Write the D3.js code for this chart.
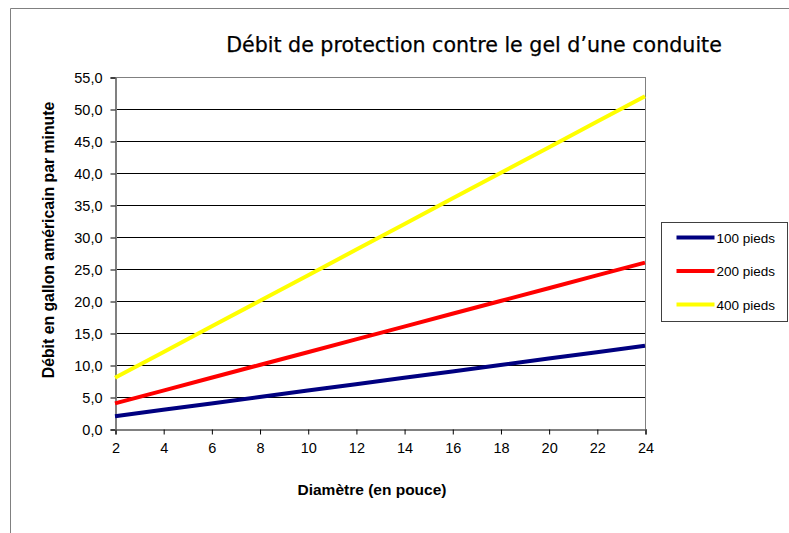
<!DOCTYPE html>
<html>
<head>
<meta charset="utf-8">
<script src="https://cdn.jsdelivr.net/npm/d3@7"></script>
<style>
	html, body { margin: 0; padding: 0; background: white; }
	#outer { width: 789px; height: 533px; }
</style>
</head>
<body>
<div id="outer"></div>
<script>
////////// Data //////////
const diameters = [2, 4, 6, 8, 10, 12, 14, 16, 18, 20, 22, 24];
const seriesNames = ['100 pieds', '200 pieds', '400 pieds'];
const seriesColors = ['#000080', '#ff0000', '#ffff00'];
const flow100 = [2, 3, 4, 5, 6, 7, 8, 9, 10, 11, 12, 13];
const flow200 = [4, 6, 8, 10, 12, 14, 16, 18, 20, 22, 24, 26];
const flow400 = [8, 12, 16, 20, 24, 28, 32, 36, 40, 44, 48, 52];
const xTicks = [2, 4, 6, 8, 10, 12, 14, 16, 18, 20, 22, 24];
const yTicks = [0, 5, 10, 15, 20, 25, 30, 35, 40, 45, 50, 55];

const titleText = 'Débit de protection contre le gel d\u2019une conduite';
const xLabelText = 'Diamètre (en pouce)';
const yLabelText = 'Débit en gallon américain par minute';

function drawChart () {
	////////////////////////////////////////////////////////////////
		// Setup
	////////////////////////////////////////////////////////////////
	const width = 789, height = 533;
	const plot = {left: 115, right: 645, top: 77, bottom: 429};
	const font = '"Liberation Sans", Arial, sans-serif';
	const titleFont = '"DejaVu Sans", Verdana, sans-serif';
	const gridColor = '#000000';
	const frameColor = '#808080';
	const textColor = '#000000';

	const series = [flow100, flow200, flow400].map((vals, i) => ({
		name: seriesNames[i],
		color: seriesColors[i],
		points: diameters.map((d, j) => ({x: d, y: vals[j]}))
	}));

	const x = d3.scaleLinear().domain([2, 24]).range([plot.left, plot.right]);
	const y = d3.scaleLinear().domain([0, 55]).range([plot.bottom, plot.top]);

	const svg = d3.select('#outer').append('svg')
		.attr('width', width)
		.attr('height', height)
		.style('font-family', font)
		.style('display', 'block');

	////////////////////////////////////////////////////////////////
		// Chart frame
	////////////////////////////////////////////////////////////////
	svg.append('path')
		.attr('d', `M10.5,${height} V8.5 H${width}`)
		.attr('fill', 'none')
		.attr('stroke', frameColor)
		.attr('stroke-width', 1);

	// title
	svg.append('text')
		.attr('x', 474)
		.attr('y', 52)
		.attr('text-anchor', 'middle')
		.style('font-family', titleFont)
		.style('font-size', '20.6px')
		.attr('fill', textColor)
		.attr('stroke', textColor)
		.attr('stroke-width', 0.25)
		.text(titleText);

	////////////////////////////////////////////////////////////////
		// Grid + axes
	////////////////////////////////////////////////////////////////
	const grid = svg.append('g').attr('class', 'grid');
	grid.selectAll('line')
		.data(yTicks.filter(t => t > 0))
		.join('line')
		.attr('x1', plot.left)
		.attr('x2', plot.right)
		.attr('y1', d => Math.round(y(d)) + 0.5)
		.attr('y2', d => Math.round(y(d)) + 0.5)
		.attr('stroke', d => d === 55 ? frameColor : gridColor)
		.attr('stroke-width', 1);

	// right edge of plot
	svg.append('line')
		.attr('x1', plot.right + 0.5).attr('x2', plot.right + 0.5)
		.attr('y1', plot.top).attr('y2', plot.bottom)
		.attr('stroke', frameColor);

	const yAxis = svg.append('g')
		.attr('transform', `translate(${plot.left + 0.5}, 0.5)`)
		.call(d3.axisLeft(y).tickValues(yTicks).tickSize(5).tickPadding(8)
			.tickFormat(d => d3.format('.1f')(d).replace('.', ',')));
	yAxis.select('.domain').attr('stroke', frameColor).attr('stroke-width', 2);
	yAxis.selectAll('.tick line').attr('stroke', '#000');
	yAxis.selectAll('.tick text')
		.style('font-size', '14.5px')
		.style('font-family', font)
		.attr('fill', textColor);

	const xAxis = svg.append('g')
		.attr('transform', `translate(0.5, ${plot.bottom + 0.5})`)
		.call(d3.axisBottom(x).tickValues(xTicks).tickSize(5).tickPadding(8));
	xAxis.select('.domain').attr('stroke', frameColor).attr('stroke-width', 2);
	xAxis.selectAll('.tick line').attr('stroke', '#000');
	xAxis.selectAll('.tick text')
		.style('font-size', '14.5px')
		.style('font-family', font)
		.attr('fill', textColor);

	// axis titles
	svg.append('text')
		.attr('x', 372)
		.attr('y', 495)
		.attr('text-anchor', 'middle')
		.style('font-size', '15.5px')
		.style('font-weight', 'bold')
		.attr('fill', textColor)
		.text(xLabelText);

	svg.append('text')
		.attr('transform', `translate(54, 240) rotate(-90)`)
		.attr('text-anchor', 'middle')
		.style('font-size', '15.8px')
		.style('font-weight', 'bold')
		.attr('fill', textColor)
		.text(yLabelText);

	////////////////////////////////////////////////////////////////
		// Lines
	////////////////////////////////////////////////////////////////
	const line = d3.line().x(d => x(d.x)).y(d => y(d.y));
	svg.append('g').attr('class', 'lines')
		.selectAll('path')
		.data(series)
		.join('path')
		.attr('d', d => line(d.points))
		.attr('fill', 'none')
		.attr('stroke', d => d.color)
		.attr('stroke-width', 4);

	////////////////////////////////////////////////////////////////
		// Legend
	////////////////////////////////////////////////////////////////
	const legend = svg.append('g').attr('transform', 'translate(661.5, 222.5)');
	legend.append('rect')
		.attr('width', 126)
		.attr('height', 99)
		.attr('fill', 'white')
		.attr('stroke', '#404040');
	const rows = legend.selectAll('g.row')
		.data(series)
		.join('g')
		.attr('class', 'row')
		.attr('transform', (d, i) => `translate(0, ${15 + i * 33.5})`);
	rows.append('line')
		.attr('x1', 15).attr('x2', 53)
		.attr('y1', 0).attr('y2', 0)
		.attr('stroke', d => d.color)
		.attr('stroke-width', 4);
	rows.append('text')
		.attr('x', 55)
		.attr('y', 5)
		.style('font-size', '13.5px')
		.attr('fill', textColor)
		.text(d => d.name);
}

drawChart();
</script>
</body>
</html>
